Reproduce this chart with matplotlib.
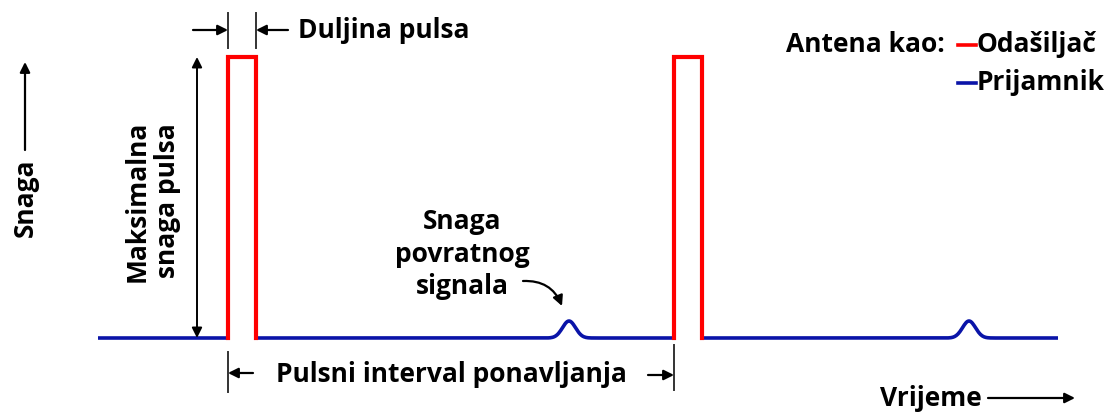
import numpy as np
import matplotlib
matplotlib.use('Agg')
import matplotlib.pyplot as plt

# pulse radar timing diagram (time / power in arbitrary units)
pulse_starts = [228, 674]        # transmitter pulse start times
pulse_width = 28                 # pulse duration
pulse_peak = 281                 # peak transmit power
echo_centers = [569, 969]        # received echo times
echo_amplitude = 17              # received echo power
echo_sigma = 6.5
t_begin, t_end = 98, 1058

labels = {
    'duljina': 'Duljina pulsa',
    'maks': 'Maksimalna\nsnaga pulsa',
    'interval': 'Pulsni interval ponavljanja',
    'echo': 'Snaga\npovratnog\nsignala',
    'y': 'Snaga',
    'x': 'Vrijeme',
    'legend': 'Antena kao:',
    'tx': 'Odašiljač',
    'rx': 'Prijamnik',
}

RED = '#ff0000'
BLUE = '#0a14a8'
plt.rcParams['font.family'] = ['Open Sans', 'DejaVu Sans']
FS = 19

fig = plt.figure(figsize=(11.06, 4.13), dpi=100)
ax = fig.add_axes([0, 0, 1, 1])
ax.set_xlim(0, 1106)
ax.set_ylim(-75, 338)
ax.axis('off')

# receiver trace: baseline with echo bumps, broken where the transmitter is on
edges = [t_begin]
for s in pulse_starts:
    edges += [s, s + pulse_width]
edges.append(t_end)
for a, b in zip(edges[0::2], edges[1::2]):
    t = np.linspace(a, b, 400)
    p = np.zeros_like(t)
    for c in echo_centers:
        p += echo_amplitude * np.exp(-0.5 * ((t - c) / echo_sigma) ** 2)
    ax.plot(t, p, color=BLUE, lw=2.6, solid_capstyle='butt', zorder=2)

# transmitter pulses
for s in pulse_starts:
    ax.plot([s, s, s + pulse_width, s + pulse_width], [0, pulse_peak, pulse_peak, 0],
            color=RED, lw=3, solid_joinstyle='miter', zorder=3)

arrow = dict(arrowstyle='-|>', color='black', lw=1.6, mutation_scale=15, shrinkA=0, shrinkB=0)
tick_kw = dict(color='#333333', lw=1.4)

# pulse width marker
s0 = pulse_starts[0]
ax.plot([s0, s0], [290, 325], **tick_kw)
ax.plot([s0 + pulse_width, s0 + pulse_width], [290, 325], **tick_kw)
ax.annotate('', xy=(s0, 308), xytext=(s0 - 35, 308), arrowprops=arrow)
ax.annotate('', xy=(s0 + pulse_width, 308), xytext=(s0 + pulse_width + 32, 308), arrowprops=arrow)
ax.text(298, 308, labels['duljina'], fontsize=FS, fontweight='bold', ha='left', va='center')

# peak power marker
ax.annotate('', xy=(197, pulse_peak), xytext=(197, 0),
            arrowprops=dict(arrowstyle='<|-|>', color='black', lw=1.4, mutation_scale=15,
                            shrinkA=0, shrinkB=0))
ax.text(152, 137, labels['maks'], fontsize=FS, fontweight='bold', rotation=90,
        ha='center', va='center', linespacing=1.15)

# pulse repetition interval marker
s1 = pulse_starts[1]
ax.plot([s0, s0], [-14, -54], **tick_kw)
ax.plot([s1, s1], [-7, -52], **tick_kw)
ax.annotate('', xy=(s0, -35), xytext=(s0 + 25, -35), arrowprops=arrow)
ax.annotate('', xy=(s1, -37), xytext=(s1 - 26, -37), arrowprops=arrow)
ax.text(451, -37, labels['interval'], fontsize=FS, fontweight='bold', ha='center', va='center')

# echo label
ax.text(462, 84, labels['echo'], fontsize=FS, fontweight='bold', ha='center', va='center',
        linespacing=1.25)
ax.annotate('', xy=(echo_centers[0] - 7, 32), xytext=(523, 57),
            arrowprops=dict(arrowstyle='-|>', color='black', lw=1.6, mutation_scale=15,
                            shrinkA=0, shrinkB=0, connectionstyle='arc3,rad=-0.35'))

# axis labels
ax.text(25, 140, labels['y'], fontsize=FS, fontweight='bold', rotation=90, ha='center', va='center')
ax.annotate('', xy=(25, 276), xytext=(25, 188), arrowprops=arrow)
ax.text(880, -60, labels['x'], fontsize=FS, fontweight='bold', ha='left', va='center')
ax.annotate('', xy=(1075, -60), xytext=(988, -60), arrowprops=arrow)

# legend
ax.text(945, 293, labels['legend'], fontsize=FS, fontweight='bold', ha='right', va='center')
ax.plot([958, 976], [293, 293], color=RED, lw=2.6)
ax.text(977, 293, labels['tx'], fontsize=FS, fontweight='bold', ha='left', va='center')
ax.plot([958, 976], [255, 255], color=BLUE, lw=2.6)
ax.text(977, 255, labels['rx'], fontsize=FS, fontweight='bold', ha='left', va='center')

fig.savefig('out.png', dpi=100, facecolor='white')
